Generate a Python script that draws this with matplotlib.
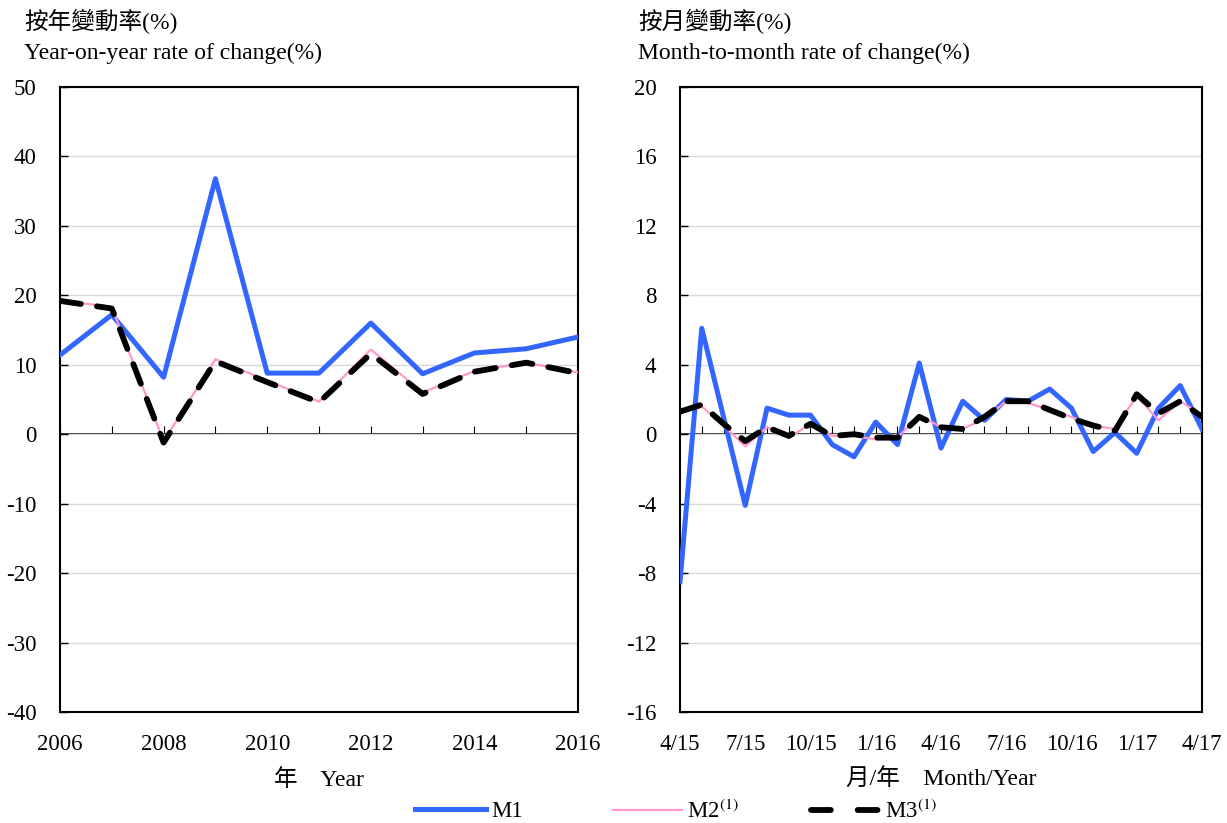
import matplotlib
matplotlib.use('Agg')
import matplotlib.pyplot as plt
from matplotlib.lines import Line2D
import numpy as np

plt.rcParams['font.family'] = ['Liberation Serif', 'Noto Sans CJK TC']
plt.rcParams['mathtext.fontset'] = 'stix'
plt.rcParams['axes.unicode_minus'] = False

# annual data (year-on-year %)
years = [2006, 2007, 2008, 2009, 2010, 2011, 2012, 2013, 2014, 2015, 2016]
m1_year = [11.4, 17.2, 8.2, 36.8, 8.8, 8.8, 16.0, 8.7, 11.7, 12.3, 14.0]
m2_year = [19.3, 18.3, -1.0, 10.8, 7.7, 4.7, 12.2, 6.0, 9.1, 10.3, 8.9]
m3_year = [19.2, 18.1, -1.2, 10.5, 7.5, 4.6, 11.6, 5.8, 9.0, 10.3, 8.8]

# monthly data (month-to-month %), 4/15 .. 4/17
months = list(range(25))
month_labels = ['4/15', '7/15', '10/15', '1/16', '4/16', '7/16', '10/16', '1/17', '4/17']
m1_month = [-8.5, 6.1, 1.0, -4.1, 1.5, 1.1, 1.1, -0.6, -1.3, 0.7, -0.6, 4.1, -0.8,
            1.9, 0.8, 2.0, 1.9, 2.6, 1.5, -1.0, 0.1, -1.1, 1.5, 2.8, 0.3]
m2_month = [1.4, 1.6, 0.5, -0.7, 0.4, -0.2, 0.6, -0.1, -0.1, -0.3, -0.2, 1.1, 0.4,
            0.3, 0.9, 1.9, 1.8, 1.4, 1.0, 0.5, 0.3, 2.2, 0.8, 1.9, 1.1]
m3_month = [1.3, 1.7, 0.6, -0.4, 0.4, -0.1, 0.6, -0.1, 0.0, -0.2, -0.2, 1.0, 0.4,
            0.3, 1.0, 1.9, 1.9, 1.4, 0.9, 0.5, 0.2, 2.3, 1.2, 1.9, 1.0]

blue = '#3366FF'
pink = '#FF99CC'
fs = 16.5      # tick labels
fs_t = 17      # titles

fig = plt.figure(figsize=(12.27, 8.23), dpi=100)
ax1 = fig.add_axes([0.0489, 0.1349, 0.4222, 0.7594])
ax2 = fig.add_axes([0.5542, 0.1349, 0.4254, 0.7594])


def style(ax, x, ylim, yticks, xticks, xlabels, minor_x, xlabel):
    ax.set_xlim(x[0], x[-1])
    ax.set_ylim(*ylim)
    ax.set_yticks(yticks)
    ax.set_yticklabels([str(v) for v in yticks], fontsize=fs)
    ax.set_xticks(xticks)
    ax.set_xticklabels(xlabels, fontsize=fs)
    ax.tick_params(axis='x', length=0, pad=16)
    ax.tick_params(axis='y', direction='in', length=6, pad=17, width=1)
    ax.grid(axis='y', color='#D9D9D9', linewidth=1)
    ax.set_axisbelow(True)
    for s in ax.spines.values():
        s.set_linewidth(1.5)
    # zero line with monthly / yearly tick marks
    loc = -ylim[0] / (ylim[1] - ylim[0])
    sec = ax.secondary_xaxis(loc)
    sec.xaxis.set_ticks_position('bottom')
    sec.set_xticks(minor_x)
    sec.tick_params(direction='in', length=6, labelbottom=False, labeltop=False, width=0.8)
    sec.spines['bottom'].set_linewidth(1.2)
    ax.set_xlabel(xlabel, fontsize=fs_t, labelpad=10)


l1, = ax1.plot(years, m1_year, color=blue, lw=3.6, label='M1', zorder=3)
l2, = ax1.plot(years, m2_year, color=pink, lw=1.6, label='M2$^{\\mathrm{(1)}}$', zorder=4)
ax1.plot(years, m3_year, color='black', lw=4.2, dashes=(3.6, 2.8),
         dash_capstyle='round', zorder=5)
style(ax1, years, (-40, 50), list(range(-40, 51, 10)),
      years[::2], [str(y) for y in years[::2]], years, '年    Year')

ax2.plot(months, m1_month, color=blue, lw=3.6, zorder=3)
ax2.plot(months, m2_month, color=pink, lw=1.6, zorder=4)
ax2.plot(months, m3_month, color='black', lw=4.2, dashes=(3.6, 2.8),
         dash_capstyle='round', zorder=5)
style(ax2, months, (-16, 20), list(range(-16, 21, 4)),
      months[::3], month_labels, months, '月/年    Month/Year')

fig.text(0.0196, 0.974, '按年變動率(%)', fontsize=fs_t, va='center', ha='left')
fig.text(0.0196, 0.935, 'Year-on-year rate of change(%)', fontsize=fs_t, va='center', ha='left')
fig.text(0.52, 0.974, '按月變動率(%)', fontsize=fs_t, va='center', ha='left')
fig.text(0.52, 0.935, 'Month-to-month rate of change(%)', fontsize=fs_t, va='center', ha='left')

# legend handle for M3: two dashes, as in the original key
l3 = Line2D([], [], color='black', lw=4.2, dashes=(3.4, 4.6), dash_capstyle='round',
            label='M3$^{\\mathrm{(1)}}$')

# legend entries placed like the original's fixed-width columns
for h, x0, hl in [(l1, 415, 3.1), (l2, 613, 3.0), (l3, 811, 3.0)]:
    fig.legend(handles=[h], loc='center left', bbox_to_anchor=(x0 / 1227, 0.014),
               frameon=False, fontsize=fs, handlelength=hl, handletextpad=0.25,
               borderpad=0, borderaxespad=0)

fig.savefig('out.png', dpi=100)
